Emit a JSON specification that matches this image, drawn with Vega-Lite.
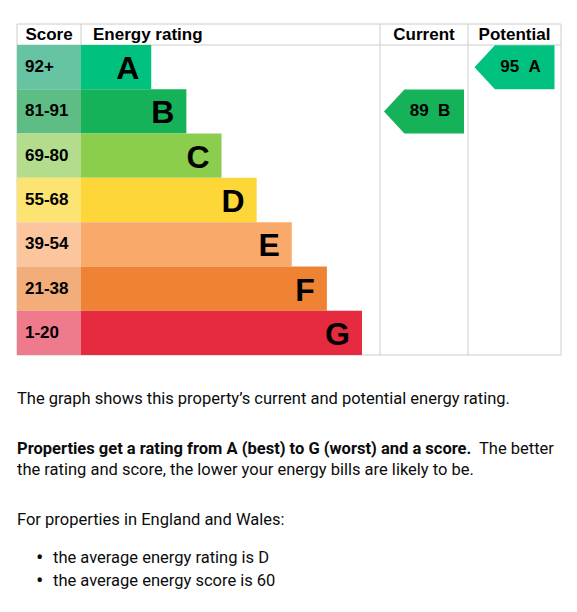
{
  "$schema": "https://vega.github.io/schema/vega-lite/v6.json",
  "width": 577,
  "height": 612,
  "padding": 0,
  "autosize": {"type": "none"},
  "background": "white",
  "config": {
    "view": {"stroke": null},
    "axis": {"disable": true},
    "text": {"font": "Liberation Sans", "color": "#0b0c0c"}
  },
  "datasets": {
    "bands": [
      {"rating": "A", "range": "92+", "rank": 1, "length": 2},
      {"rating": "B", "range": "81-91", "rank": 2, "length": 3},
      {"rating": "C", "range": "69-80", "rank": 3, "length": 4},
      {"rating": "D", "range": "55-68", "rank": 4, "length": 5},
      {"rating": "E", "range": "39-54", "rank": 5, "length": 6},
      {"rating": "F", "range": "21-38", "rank": 6, "length": 7},
      {"rating": "G", "range": "1-20", "rank": 7, "length": 8}
    ],
    "columns": [
      {"column": "Score", "start": -1, "end": 0, "center": -0.5},
      {"column": "Energy rating", "start": 0, "end": 9, "center": 4.5},
      {"column": "Current", "start": 9, "end": 10, "center": 9.5},
      {"column": "Potential", "start": 10, "end": 11, "center": 10.5}
    ],
    "ratings": [
      {"column": "Current", "score": 89, "rating": "B", "label": "89\u00a0\u00a0B"},
      {"column": "Potential", "score": 95, "rating": "A", "label": "95\u00a0\u00a0A"}
    ],
    "notes": [
      {"line": 1, "indent": 0, "strong": false, "text": "The graph shows this property’s current and potential energy rating."},
      {"line": 2, "indent": 0, "strong": true, "text": "Properties get a rating from A (best) to G (worst) and a score."},
      {"line": 2, "indent": 3, "strong": false, "text": "The better"},
      {"line": 3, "indent": 0, "strong": false, "text": "the rating and score, the lower your energy bills are likely to be."},
      {"line": 4, "indent": 0, "strong": false, "text": "For properties in England and Wales:"},
      {"line": 5, "indent": 1, "strong": false, "text": "•"},
      {"line": 5, "indent": 2, "strong": false, "text": "the average energy rating is D"},
      {"line": 6, "indent": 1, "strong": false, "text": "•"},
      {"line": 6, "indent": 2, "strong": false, "text": "the average energy score is 60"}
    ]
  },
  "layer": [
    {
      "layer": [
        {
          "data": {"values": [{"edge": 0}, {"edge": 0.5}, {"edge": 7.5}]},
          "mark": {"type": "rule", "color": "#cccccc", "strokeWidth": 1},
          "encoding": {
            "y": {"field": "edge", "type": "quantitative", "axis": null, "scale": {"domain": [0, 0.5, 7.5], "range": [24, 45, 355], "nice": false, "zero": false, "padding": 0}},
            "x": {"datum": -1, "type": "quantitative", "axis": null, "scale": {"domain": [-1, 0, 8, 9, 10, 11], "range": [17, 81, 362, 380, 468, 561], "nice": false, "zero": false, "padding": 0}},
            "x2": {"datum": 11}
          }
        },
        {
          "data": {"name": "columns"},
          "mark": {"type": "rule", "color": "#cccccc", "strokeWidth": 1},
          "encoding": {
            "x": {"field": "start", "type": "quantitative"},
            "y": {"datum": 0, "type": "quantitative"},
            "y2": {"datum": 7.5}
          }
        },
        {
          "data": {"name": "columns"},
          "transform": [{"filter": "datum.column == 'Potential'"}],
          "mark": {"type": "rule", "color": "#cccccc", "strokeWidth": 1},
          "encoding": {
            "x": {"field": "end", "type": "quantitative"},
            "y": {"datum": 0, "type": "quantitative"},
            "y2": {"datum": 7.5}
          }
        },
        {
          "data": {"name": "bands"},
          "mark": {"type": "bar", "orient": "horizontal", "height": 44.3},
          "encoding": {
            "y": {"field": "rank", "type": "quantitative"},
            "x": {"datum": -1, "type": "quantitative"},
            "x2": {"datum": 0},
            "fill": {
              "field": "rating", "type": "nominal", "legend": null,
              "scale": {"domain": ["A", "B", "C", "D", "E", "F", "G"], "range": ["#66c4a2", "#5dbd84", "#b3dd8c", "#fde371", "#fbc69e", "#f2ad7b", "#ef7a8c"]}
            }
          }
        },
        {
          "data": {"name": "bands"},
          "mark": {"type": "bar", "orient": "horizontal", "height": 44.3},
          "encoding": {
            "y": {"field": "rank", "type": "quantitative"},
            "x": {"field": "length", "type": "quantitative"},
            "x2": {"datum": 0},
            "color": {
              "field": "rating", "type": "nominal", "legend": null,
              "scale": {"domain": ["A", "B", "C", "D", "E", "F", "G"], "range": ["#00c27e", "#16b25a", "#8bcd4c", "#fdd638", "#f9aa6b", "#ee8333", "#e62a3f"]}
            }
          }
        },
        {
          "data": {"name": "bands"},
          "mark": {"type": "text", "align": "right", "baseline": "middle", "dx": -12, "dy": 2, "fontSize": 32, "fontWeight": "bold", "color": "#000000"},
          "encoding": {
            "y": {"field": "rank", "type": "quantitative"},
            "x": {"field": "length", "type": "quantitative"},
            "text": {"field": "rating"}
          }
        },
        {
          "data": {"name": "bands"},
          "mark": {"type": "text", "align": "left", "baseline": "middle", "dx": 8, "fontSize": 17, "fontWeight": "bold", "color": "#000000"},
          "encoding": {
            "y": {"field": "rank", "type": "quantitative"},
            "x": {"datum": -1, "type": "quantitative"},
            "text": {"field": "range"}
          }
        },
        {
          "data": {"name": "columns"},
          "transform": [{"filter": "datum.column != 'Energy rating'"}],
          "mark": {"type": "text", "align": "center", "baseline": "middle", "fontSize": 17, "fontWeight": "bold", "color": "#000000"},
          "encoding": {
            "y": {"datum": 0.25, "type": "quantitative"},
            "x": {"field": "center", "type": "quantitative"},
            "text": {"field": "column"}
          }
        },
        {
          "data": {"name": "columns"},
          "transform": [{"filter": "datum.column == 'Energy rating'"}],
          "mark": {"type": "text", "align": "left", "baseline": "middle", "dx": 12, "fontSize": 17, "fontWeight": "bold", "color": "#000000"},
          "encoding": {
            "y": {"datum": 0.25, "type": "quantitative"},
            "x": {"field": "start", "type": "quantitative"},
            "text": {"field": "column"}
          }
        },
        {
          "data": {"name": "ratings"},
          "transform": [
            {"lookup": "rating", "from": {"data": {"name": "bands"}, "key": "rating", "fields": ["rank"]}},
            {"lookup": "column", "from": {"data": {"name": "columns"}, "key": "column", "fields": ["center"]}}
          ],
          "mark": {"type": "point", "filled": true, "opacity": 1, "strokeWidth": 0, "size": 6400, "shape": "M-1,0L-0.49,-0.55L1,-0.55L1,0.55L-0.49,0.55Z"},
          "encoding": {
            "y": {"field": "rank", "type": "quantitative"},
            "x": {"field": "center", "type": "quantitative"},
            "color": {"field": "rating", "type": "nominal", "legend": null}
          }
        },
        {
          "data": {"name": "ratings"},
          "transform": [
            {"lookup": "rating", "from": {"data": {"name": "bands"}, "key": "rating", "fields": ["rank"]}},
            {"lookup": "column", "from": {"data": {"name": "columns"}, "key": "column", "fields": ["center"]}}
          ],
          "mark": {"type": "text", "align": "center", "baseline": "middle", "dx": 6, "fontSize": 17, "fontWeight": "bold", "color": "#000000"},
          "encoding": {
            "y": {"field": "rank", "type": "quantitative"},
            "x": {"field": "center", "type": "quantitative"},
            "text": {"field": "label"}
          }
        }
      ]
    },
    {
      "data": {"name": "notes"},
      "layer": [
        {
          "transform": [{"filter": "!datum.strong && datum.indent != 1"}],
          "mark": {"type": "text", "align": "left", "baseline": "alphabetic", "font": "Roboto", "fontSize": 16.5, "color": "#0b0c0c"},
          "encoding": {
            "y": {"field": "line", "type": "quantitative", "axis": null, "scale": {"domain": [1, 2, 3, 4, 5, 6], "range": [404, 454, 475, 525, 563, 586], "nice": false, "zero": false}},
            "x": {"field": "indent", "type": "quantitative", "axis": null, "scale": {"domain": [0, 1, 2, 3], "range": [17, 36, 53, 479], "nice": false, "zero": false}},
            "text": {"field": "text"}
          }
        },
        {
          "transform": [{"filter": "datum.indent == 1"}],
          "mark": {"type": "text", "align": "left", "baseline": "alphabetic", "dy": 2, "font": "Roboto", "fontSize": 22, "color": "#0b0c0c"},
          "encoding": {
            "y": {"field": "line", "type": "quantitative"},
            "x": {"field": "indent", "type": "quantitative"},
            "text": {"field": "text"}
          }
        },
        {
          "transform": [{"filter": "datum.strong"}],
          "mark": {"type": "text", "align": "left", "baseline": "alphabetic", "font": "Roboto", "fontSize": 16.5, "fontWeight": "bold", "color": "#0b0c0c"},
          "encoding": {
            "y": {"field": "line", "type": "quantitative"},
            "x": {"field": "indent", "type": "quantitative"},
            "text": {"field": "text"}
          }
        }
      ]
    }
  ],
  "resolve": {"scale": {"x": "independent", "y": "independent"}}
}
